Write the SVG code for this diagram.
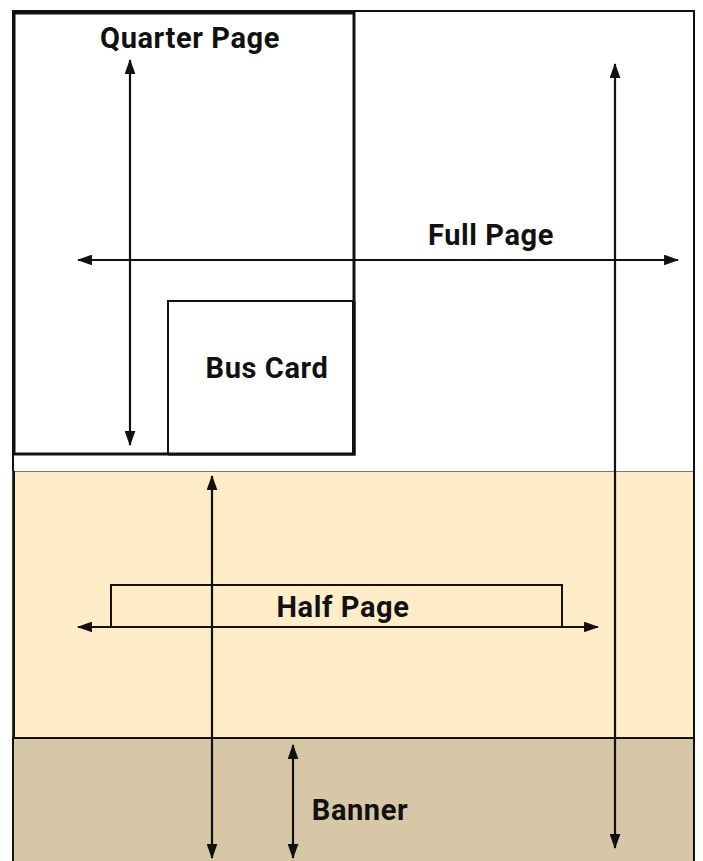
<svg xmlns="http://www.w3.org/2000/svg" width="703" height="861" viewBox="0 0 703 861">
<style>
.lbl{font-family:Roboto,"Liberation Sans",sans-serif;font-weight:bold;font-size:29px;letter-spacing:0.6px;fill:#111;text-anchor:middle}
.box{fill:none;stroke:#111;stroke-width:2}
.arr{stroke:#111;stroke-width:2.2;fill:none;marker-start:url(#ah);marker-end:url(#ah)}
</style>
<defs>
<marker id="ah" viewBox="0 0 14 10" refX="13" refY="5" markerWidth="15" markerHeight="11" markerUnits="userSpaceOnUse" orient="auto-start-reverse">
<path d="M0,0 L14,5 L0,10 Z" fill="#111"/>
</marker>
</defs>
<rect width="703" height="861" fill="#fff"/>
<g id="full-page">
<rect x="13" y="11" width="681" height="870" class="box"/>
</g>
<g id="half-page">
<rect x="13" y="471.5" width="681" height="410" fill="#FFEDC9" stroke="#777" stroke-width="1"/>
<line x1="14" y1="471" x2="14" y2="861" stroke="#111" stroke-width="2"/>
<line x1="694" y1="471" x2="694" y2="861" stroke="#111" stroke-width="2"/>
<rect x="111" y="585" width="451" height="42" class="box"/>
</g>
<g id="banner">
<rect x="13" y="738" width="681" height="140" fill="#D6C7A6" stroke="#111" stroke-width="2"/>
</g>
<g id="quarter-page">
<rect x="14" y="13" width="340" height="441" fill="none" stroke="#111" stroke-width="3"/>
</g>
<g id="bus-card">
<rect x="168" y="301" width="185" height="153" fill="#fff" stroke="#111" stroke-width="2"/>
<path d="M168,454 H354 V301" fill="none" stroke="#111" stroke-width="3"/>
</g>
<g id="connectors">
<line x1="130" y1="60" x2="130" y2="445" class="arr"/>
<line x1="78" y1="260" x2="678" y2="260" class="arr"/>
<line x1="615" y1="64" x2="615" y2="848" class="arr"/>
<line x1="212" y1="476" x2="212" y2="858" class="arr"/>
<line x1="78" y1="627" x2="598" y2="627" class="arr"/>
<line x1="293" y1="745" x2="293" y2="858" class="arr"/>
</g>
<g id="labels">
<text x="190" y="48" class="lbl">Quarter Page</text>
<text x="491" y="245" class="lbl">Full Page</text>
<text x="267" y="378" class="lbl">Bus Card</text>
<text x="343" y="617" class="lbl">Half Page</text>
<text x="360" y="820" class="lbl">Banner</text>
</g>
</svg>
